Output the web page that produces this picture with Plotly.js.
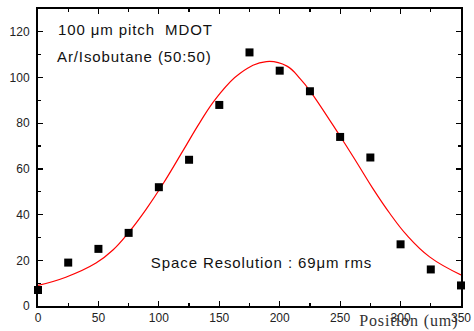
<!DOCTYPE html>
<html>
<head>
<meta charset="utf-8">
<script src="https://cdn.plot.ly/plotly-3.0.1.min.js"></script>
<style>
html,body{margin:0;padding:0;background:#fff;}
#chart{width:474px;height:331px;}
#chart .annotation-text{letter-spacing:0.9px;}
</style>
</head>
<body>
<div id="chart"></div>
<script>
// Measured data points
const positions = [0, 25, 50, 75, 100, 125, 150, 175, 200, 225, 250, 275, 300, 325, 350];
const counts = [7, 19, 25, 32, 52, 64, 88, 111, 103, 94, 74, 65, 27, 16, 9];
// Fit curve
const fitX = [0, 23, 48, 62, 75.5, 89, 103.5, 120, 134, 148, 167, 189, 206, 217, 225, 250, 264, 277, 291, 305, 324, 350];
const fitY = [9, 12.6, 18.8, 24.5, 32.5, 42, 53.5, 68, 80.4, 91.3, 101.8, 107, 105, 99.4, 94.2, 74.3, 62.6, 51.5, 40.6, 31.1, 21.5, 13.6];

const xTicks = [0, 50, 100, 150, 200, 250, 300, 350];
const yTicks = [0, 20, 40, 60, 80, 100, 120];

const axisFont = {family: 'Liberation Sans, Arial, sans-serif', size: 12, color: '#222'};
const noteFont = {family: 'Liberation Sans, Arial, sans-serif', size: 15, color: '#111'};

const data = [
  {x: fitX, y: fitY, type: 'scatter', mode: 'lines', line: {color: '#ff0000', width: 1.2, shape: 'spline', smoothing: 1.2}, hoverinfo: 'skip'},
  {x: positions, y: counts, type: 'scatter', mode: 'markers', marker: {symbol: 'square', size: 8, color: '#000'}, cliponaxis: false}
];

const layout = {
  width: 474, height: 331,
  margin: {l: 38, r: 13, t: 9, b: 25},
  paper_bgcolor: '#fff', plot_bgcolor: '#fff',
  showlegend: false,
  font: axisFont,
  xaxis: {
    range: [0, 350], tickvals: xTicks, ticktext: xTicks.map(String),
    ticks: 'inside', ticklen: 5, tickwidth: 1.2, tickcolor: '#000',
    showline: true, linecolor: '#000', linewidth: 2, mirror: 'allticks',
    showgrid: false, zeroline: false, tickfont: axisFont,
    minor: {dtick: 25, tick0: 0, ticks: 'inside', ticklen: 3, tickcolor: '#000', showgrid: false}
  },
  yaxis: {
    range: [0, 130], tickvals: yTicks, ticktext: yTicks.map(String),
    ticks: 'inside', ticklen: 5, tickwidth: 1.2, tickcolor: '#000',
    showline: true, linecolor: '#000', linewidth: 2, mirror: 'allticks',
    showgrid: false, zeroline: false, tickfont: axisFont, ticklabelstandoff: 4,
    minor: {dtick: 10, tick0: 0, ticks: 'inside', ticklen: 3, tickcolor: '#000', showgrid: false}
  },
  annotations: [
    {text: '100 μm pitch  MDOT', xref: 'paper', yref: 'paper', x: 0.061, y: 0.93, xanchor: 'left', yanchor: 'middle', showarrow: false, font: noteFont},
    {text: 'Ar/Isobutane (50:50)', xref: 'paper', yref: 'paper', x: 0.061, y: 0.84, xanchor: 'left', yanchor: 'middle', showarrow: false, font: noteFont},
    {text: 'Space Resolution : 69μm rms', xref: 'paper', yref: 'paper', x: 0.291, y: 0.145, xanchor: 'left', yanchor: 'middle', showarrow: false, font: noteFont},
    {text: 'Position (um)', xref: 'paper', yref: 'paper', x: 0.768, y: -0.052, xanchor: 'left', yanchor: 'middle', showarrow: false,
     font: {family: 'Liberation Serif, Times New Roman, serif', size: 16, color: '#333'}}
  ]
};

Plotly.newPlot('chart', data, layout, {displayModeBar: false, staticPlot: true});
</script>
</body>
</html>
